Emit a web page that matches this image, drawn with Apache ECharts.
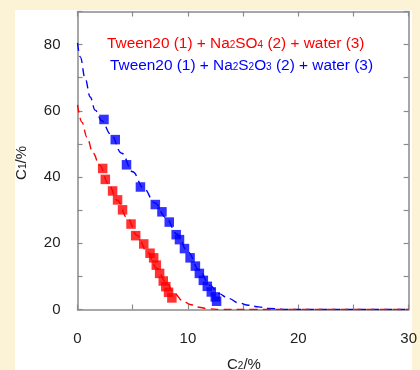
<!DOCTYPE html>
<html>
<head>
<meta charset="utf-8">
<script src="https://cdn.jsdelivr.net/npm/echarts@6/dist/echarts.min.js"></script>
<style>
  html, body { margin: 0; padding: 0; background: #fcf2d5; }
  #chart { width: 420px; height: 370px; }
</style>
</head>
<body>
<div id="chart"></div>
<script>
// Binodal data: C2 (salt, %) vs C1 (Tween20, %)
const redX = [2.28, 2.52, 3.18, 3.63, 4.08, 4.85, 5.27, 6.0, 6.57, 6.9, 7.14, 7.44, 7.77, 8.0, 8.25, 8.55];
const redY = [42.6, 39.3, 35.8, 33.1, 30.1, 25.8, 22.3, 19.8, 17.0, 15.6, 13.4, 10.9, 8.6, 6.9, 5.2, 3.5];

const blueX = [2.4, 3.42, 4.44, 5.7, 7.05, 7.65, 8.31, 8.94, 9.24, 9.69, 10.2, 10.68, 11.04, 11.4, 11.76, 12.12, 12.48, 12.6];
const blueY = [57.4, 51.3, 43.7, 37.0, 31.7, 29.5, 26.4, 22.6, 21.1, 18.4, 15.6, 13.1, 10.9, 8.8, 7.0, 5.3, 3.8, 2.5];

// Fitted binodal curves (dashed)
const redFitX = [0, 0.4, 0.85, 1.4, 2.0, 2.8, 3.6, 4.5, 5.4, 6.3, 7.2, 8.0, 8.8, 9.5, 10.2, 11.0, 11.8, 13, 16, 20, 25, 30];
const redFitY = [61.8, 56.6, 52.1, 47.3, 43.6, 38.0, 33.0, 27.7, 22.4, 17.4, 12.4, 8.3, 4.8, 2.7, 1.5, 0.7, 0.2, 0, 0, 0, 0, 0];

const blueFitX = [0, 0.25, 0.7, 1.15, 1.6, 2.2, 3, 4, 5, 6, 7, 8, 9, 10, 11, 12, 12.8, 13.7, 14.6, 15.5, 16.4, 17.3, 19, 22, 26, 30];
const blueFitY = [80.5, 76.3, 69.7, 64.2, 60.2, 57.0, 53.0, 47.2, 41.6, 36.6, 32.2, 27.8, 22.8, 17.4, 12.0, 7.3, 4.8, 3.3, 2.0, 1.3, 0.8, 0.3, 0, 0, 0, 0];

const xTickStep = 5, xLabelStep = 10, xMin = 0, xMax = 30;
const yTickStep = 10, yLabelStep = 20, yMin = 0, yMax = 90;

const zip = (xs, ys) => xs.map((x, i) => [x, ys[i]]);

const RED = '#ff0000', BLUE = '#0000ff', FRAME = '#8a8a8a';
const FONT = 'Liberation Sans, Arial, sans-serif';

const frameAxis = (extra) => Object.assign({
  type: 'value',
  axisLine: { show: true, onZero: false, lineStyle: { color: FRAME, width: 1.5 } },
  axisTick: { show: true, inside: true, length: 5, lineStyle: { color: FRAME, width: 1.2 } },
  splitLine: { show: false },
}, extra);

const subRich = (color) => ({ s: { fontSize: 10, fill: color, fontFamily: FONT, padding: [4, 0, 0, 0] } });

const chart = echarts.init(document.getElementById('chart'), null, { renderer: 'canvas' });

chart.setOption({
  animation: false,
  backgroundColor: '#fcf2d5',
  grid: { left: 77.5, right: 9.5, top: 11.5, bottom: 60.5, containLabel: false },
  graphic: [
    { type: 'rect', z: -100, silent: true, shape: { x: 15, y: 10, width: 397, height: 360 }, style: { fill: '#ffffff' } },
    {
      type: 'text', left: 107, top: 36, z: 100,
      style: {
        text: 'Tween20 (1) + Na{s|2}SO{s|4} (2) + water (3)',
        fill: RED, font: '15.4px ' + FONT, rich: subRich(RED)
      }
    },
    {
      type: 'text', left: 110, top: 58, z: 100,
      style: {
        text: 'Tween20 (1) + Na{s|2}S{s|2}O{s|3} (2) + water (3)',
        fill: BLUE, font: '15.4px ' + FONT, rich: subRich(BLUE)
      }
    },
    {
      type: 'text', left: 227, top: 357, z: 100,
      style: { text: 'C{s|2}/%', fill: '#222', font: '15px ' + FONT, rich: subRich('#222') }
    },
    {
      type: 'text', left: 14, top: 146, rotation: Math.PI / 2, z: 100,
      style: { text: 'C{s|1}/%', fill: '#222', font: '15px ' + FONT, rich: subRich('#222') }
    }
  ],
  xAxis: [
    frameAxis({
      position: 'bottom', min: xMin, max: xMax, interval: xTickStep,
      axisLabel: {
        margin: 22, color: '#222', fontSize: 15, fontFamily: FONT,
        formatter: v => (v % xLabelStep === 0 ? String(v) : '')
      }
    }),
    frameAxis({ position: 'top', min: xMin, max: xMax, interval: xTickStep, axisLabel: { show: false } })
  ],
  yAxis: [
    frameAxis({
      position: 'left', min: yMin, max: yMax, interval: yTickStep,
      axisLabel: {
        margin: 17, color: '#222', fontSize: 15, fontFamily: FONT,
        formatter: v => (v % yLabelStep === 0 ? String(v) : '')
      }
    }),
    frameAxis({ position: 'right', min: yMin, max: yMax, interval: yTickStep, axisLabel: { show: false } })
  ],
  series: [
    {
      name: 'blue fit', type: 'line', data: zip(blueFitX, blueFitY),
      smooth: 0.4, smoothMonotone: 'x', showSymbol: false, symbol: 'none',
      lineStyle: { color: BLUE, width: 1.4, type: [8, 5] }, z: 2
    },
    {
      name: 'red fit', type: 'line', data: zip(redFitX, redFitY),
      smooth: 0.4, smoothMonotone: 'x', showSymbol: false, symbol: 'none',
      lineStyle: { color: RED, width: 1.4, type: [8, 5] }, z: 3
    },
    {
      name: 'Na2S2O3', type: 'scatter', data: zip(blueX, blueY),
      symbol: 'rect', symbolSize: 9.5, itemStyle: { color: BLUE }, z: 4
    },
    {
      name: 'Na2SO4', type: 'scatter', data: zip(redX, redY),
      symbol: 'rect', symbolSize: 9.5, itemStyle: { color: RED }, z: 5
    }
  ]
});
</script>
</body>
</html>
